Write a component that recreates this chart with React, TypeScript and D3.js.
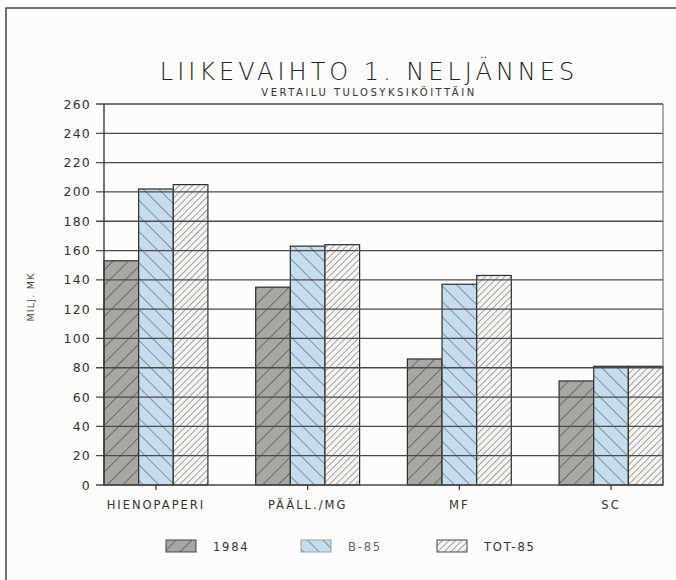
import React, { useRef, useEffect } from 'react';
import * as d3 from 'd3';

// Chart data
const categories = ['HIENOPAPERI', 'PÄÄLL./MG', 'MF', 'SC'];
const seriesNames = ['1984', 'B-85', 'TOT-85'];
const values1984 = [153, 135, 86, 71];
const valuesB85 = [202, 163, 137, 81];
const valuesTot85 = [205, 164, 143, 81];
const yTicks = [0, 20, 40, 60, 80, 100, 120, 140, 160, 180, 200, 220, 240, 260];

const FONT = '"DejaVu Sans", Verdana, sans-serif';

const App = () => {
  const svgRef = useRef<SVGSVGElement>(null);

  useEffect(() => {
    if (!svgRef.current) return;
    const width = 676;
    const height = 580;

    const svg = d3.select(svgRef.current);
    svg.selectAll('*').remove();
    svg.attr('width', width).attr('height', height);

    // hatch patterns for the three series
    const defs = svg.append('defs');
    const patternSpec = [
      { id: 'p1984', fill: '#a9a7a2', stroke: '#333', size: 11, angle: 45, sw: 1.1 },
      { id: 'pB85', fill: '#c6ddee', stroke: '#34414d', size: 11, angle: -45, sw: 1.0 },
      { id: 'pTot85', fill: '#f4f4f0', stroke: '#444', size: 4.6, angle: 45, sw: 0.9 }
    ];
    patternSpec.forEach(p => {
      const pat = defs.append('pattern')
        .attr('id', p.id)
        .attr('patternUnits', 'userSpaceOnUse')
        .attr('width', p.size)
        .attr('height', p.size)
        .attr('patternTransform', `rotate(${p.angle})`);
      pat.append('rect').attr('width', p.size).attr('height', p.size).attr('fill', p.fill);
      pat.append('line')
        .attr('x1', 0).attr('y1', 0)
        .attr('x2', 0).attr('y2', p.size)
        .attr('stroke', p.stroke)
        .attr('stroke-width', p.sw);
    });

    // background + frame
    svg.append('rect').attr('width', width).attr('height', height).attr('fill', '#fcfcfa');
    svg.append('rect')
      .attr('x', 6).attr('y', 8)
      .attr('width', 700).attr('height', 600)
      .attr('fill', 'none')
      .attr('stroke', '#444')
      .attr('stroke-width', 1.5);

    const left = 104;
    const right = 663;
    const top = 104;
    const bottom = 485;

    const x = d3.scaleBand<string>()
      .domain(categories)
      .range([left, right])
      .paddingInner(0.315)
      .paddingOuter(0);

    const xSeries = d3.scaleBand<string>()
      .domain(seriesNames)
      .range([0, x.bandwidth()]);

    const y = d3.scaleLinear().domain([0, 260]).range([bottom, top]);

    // title
    svg.append('text')
      .attr('x', 369).attr('y', 80)
      .attr('text-anchor', 'middle')
      .attr('font-family', FONT)
      .attr('font-size', 24)
      .attr('font-weight', 200)
      .attr('letter-spacing', 4)
      .attr('fill', '#222')
      .text('LIIKEVAIHTO 1. NELJÄNNES');

    svg.append('text')
      .attr('x', 369).attr('y', 96)
      .attr('text-anchor', 'middle')
      .attr('font-family', FONT)
      .attr('font-size', 10)
      .attr('letter-spacing', 2.5)
      .attr('fill', '#333')
      .text('VERTAILU TULOSYKSIKÖITTÄIN');

    // bars
    const seriesValues = [values1984, valuesB85, valuesTot85];
    const fills = ['url(#p1984)', 'url(#pB85)', 'url(#pTot85)'];
    const bars = svg.append('g');
    seriesNames.forEach((s, si) => {
      bars.selectAll(`.bar-${si}`)
        .data(categories)
        .enter()
        .append('rect')
        .attr('x', d => (x(d) ?? 0) + (xSeries(s) ?? 0))
        .attr('y', (d, i) => y(seriesValues[si][i]))
        .attr('width', xSeries.bandwidth())
        .attr('height', (d, i) => bottom - y(seriesValues[si][i]))
        .attr('fill', fills[si])
        .attr('stroke', '#2e2e2e')
        .attr('stroke-width', 1.2);
    });

    // gridlines + y ticks
    const grid = svg.append('g');
    grid.selectAll('line.grid')
      .data(yTicks)
      .enter()
      .append('line')
      .attr('x1', left - 8)
      .attr('x2', right)
      .attr('y1', d => y(d))
      .attr('y2', d => y(d))
      .attr('stroke', '#4a4a4a')
      .attr('stroke-width', 1.3);

    grid.selectAll('text.ytick')
      .data(yTicks)
      .enter()
      .append('text')
      .attr('x', 91)
      .attr('y', d => y(d) + 4.5)
      .attr('text-anchor', 'end')
      .attr('font-family', FONT)
      .attr('font-size', 12.5)
      .attr('letter-spacing', 1.2)
      .attr('fill', '#333')
      .text(d => d);

    // axis frame
    svg.append('line')
      .attr('x1', left).attr('x2', left)
      .attr('y1', top).attr('y2', bottom)
      .attr('stroke', '#3a3a3a').attr('stroke-width', 1.4);
    svg.append('line')
      .attr('x1', right).attr('x2', right)
      .attr('y1', top).attr('y2', bottom)
      .attr('stroke', '#666').attr('stroke-width', 1.1);

    // x ticks and labels
    categories.forEach(c => {
      const cx = (x(c) ?? 0) + x.bandwidth() / 2;
      svg.append('line')
        .attr('x1', cx).attr('x2', cx)
        .attr('y1', bottom).attr('y2', bottom + 5)
        .attr('stroke', '#333').attr('stroke-width', 1.2);
      svg.append('text')
        .attr('x', cx).attr('y', 509)
        .attr('text-anchor', 'middle')
        .attr('font-family', FONT)
        .attr('font-size', 11.5)
        .attr('letter-spacing', 2)
        .attr('fill', '#333')
        .text(c);
    });

    // y-axis label
    svg.append('text')
      .attr('transform', 'translate(34, 297) rotate(-90)')
      .attr('text-anchor', 'middle')
      .attr('font-family', FONT)
      .attr('font-size', 9.5)
      .attr('letter-spacing', 1.2)
      .attr('fill', '#444')
      .text('MILJ. MK');

    // legend
    const legendX = [166, 301, 437];
    seriesNames.forEach((s, i) => {
      svg.append('rect')
        .attr('x', legendX[i]).attr('y', 540)
        .attr('width', 30).attr('height', 12)
        .attr('fill', fills[i])
        .attr('stroke', i === 1 ? '#8aa' : '#444')
        .attr('stroke-width', 1);
      svg.append('text')
        .attr('x', legendX[i] + 47).attr('y', 551)
        .attr('font-family', FONT)
        .attr('font-size', 11.5)
        .attr('letter-spacing', 1.8)
        .attr('fill', i === 1 ? '#666' : '#333')
        .text(s);
    });
  }, []);

  return (
    <div style={{ position: 'absolute', left: 0, top: 0 }}>
      <svg ref={svgRef} style={{ display: 'block' }}></svg>
    </div>
  );
};

export default App;
